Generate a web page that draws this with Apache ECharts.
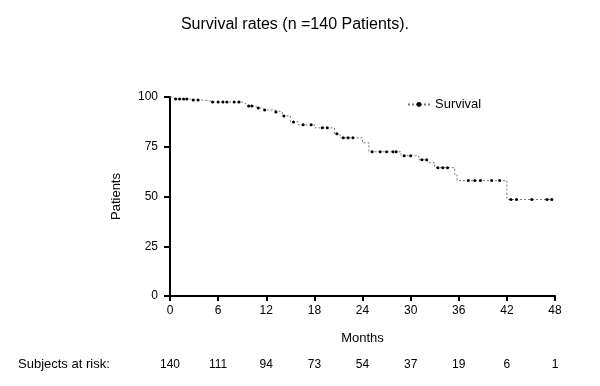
<!DOCTYPE html>
<html>
<head>
<meta charset="utf-8">
<script src="https://cdn.jsdelivr.net/npm/echarts@6/dist/echarts.min.js"></script>
<style>
  html, body { margin: 0; padding: 0; background: #fff; }
  #chart { width: 600px; height: 386px; }
</style>
</head>
<body>
<div id="chart"></div>
<script>
// KM steps: [month, survival after the drop]
const events = [
  [0, 100], [0.3, 99], [2.5, 98.5], [4, 98], [5, 97.5], [9, 96.5], [9.5, 95.5],
  [10.5, 94.5], [11.5, 93.5], [13, 92.5], [14, 90.5], [15, 87.5], [16, 86],
  [18, 84.5], [20.5, 81.5], [21.2, 79.5], [24, 77], [24.8, 72.5], [28.8, 70.5],
  [31, 68.5], [32.2, 67], [33, 64.5], [35.5, 61], [35.8, 58], [42, 48.5]
];
// censored marks
const censored = [
  [0.7, 99], [1.2, 99], [1.7, 99], [2.1, 99], [2.9, 98.5], [3.5, 98.5],
  [5.3, 97.5], [6, 97.5], [6.6, 97.5], [7.1, 97.5], [8, 97.5], [8.6, 97.5],
  [9.8, 95.5], [10.2, 95.5], [11, 94.5], [11.8, 93.5], [13.2, 92.5], [14.2, 90.5],
  [15.4, 87.5], [16.6, 86], [17.6, 86], [19, 84.5], [19.6, 84.5], [20.8, 81.5],
  [21.6, 79.5], [22.2, 79.5], [22.8, 79.5], [25.2, 72.5], [26.2, 72.5], [27, 72.5],
  [27.8, 72.5], [28.2, 72.5], [29.2, 70.5], [30, 70.5], [31.4, 68.5], [32, 68.5],
  [33.4, 64.5], [34, 64.5], [34.6, 64.5], [37.2, 58], [38, 58], [38.7, 58],
  [40.1, 58], [41.1, 58], [42.5, 48.5], [43.2, 48.5], [45.1, 48.5], [47, 48.5],
  [47.6, 48.5]
];
const yTicks = [0, 25, 50, 75, 100];
const monthTicks = [0, 6, 12, 18, 24, 30, 36, 42, 48];
const atRisk = [140, 111, 94, 73, 54, 37, 19, 6, 1];

const FONT = "Liberation Sans, Arial, sans-serif";

const curve = events.map(p => ({ value: p, symbol: "none" }))
  .concat(censored.map(p => ({ value: p })))
  .sort((a, b) => a.value[0] - b.value[0]);

const chart = echarts.init(document.getElementById("chart"), null, { renderer: "canvas" });

const axisText = { color: "#000", fontSize: 12, fontFamily: FONT };

chart.setOption({
  backgroundColor: "#fff",
  animation: false,
  title: {
    text: "Survival rates (n =140 Patients).",
    left: 290, top: 12, textAlign: "center",
    textStyle: { fontSize: 16, fontWeight: "normal", color: "#000", fontFamily: FONT }
  },
  legend: {
    data: ["Survival"],
    left: 402, top: 93,
    itemWidth: 22, itemHeight: 6, itemGap: 6,
    textStyle: { fontSize: 13, color: "#000", fontFamily: FONT }
  },
  grid: { left: 170, right: 45, top: 97, bottom: 90 },
  xAxis: [
    {
      type: "value", min: 0, max: 48, interval: 6,
      name: "Months", nameLocation: "middle", nameGap: 36,
      nameTextStyle: { fontSize: 13, color: "#000", fontFamily: FONT },
      axisLine: { onZero: false, lineStyle: { color: "#000", width: 2 } },
      axisTick: { show: true, length: 5, lineStyle: { color: "#000", width: 2 } },
      axisLabel: Object.assign({ margin: 9 }, axisText),
      splitLine: { show: false }
    },
    {
      type: "value", min: 0, max: 48, interval: 6, position: "bottom", offset: 63,
      axisLine: { show: false }, axisTick: { show: false }, splitLine: { show: false },
      axisLabel: Object.assign({
        margin: 0,
        formatter: v => atRisk[monthTicks.indexOf(v)]
      }, axisText)
    }
  ],
  yAxis: {
    type: "value", min: 0, max: 100, interval: 25,
    name: "Patients", nameLocation: "middle", nameGap: 47, nameRotate: 90,
    nameTextStyle: { fontSize: 13, color: "#000", fontFamily: FONT },
    axisLine: { show: true, lineStyle: { color: "#000", width: 2 } },
    axisTick: { show: true, length: 6, lineStyle: { color: "#000", width: 2 } },
    axisLabel: Object.assign({ margin: 12, formatter: v => yTicks.includes(v) ? v : "" }, axisText),
    splitLine: { show: false }
  },
  graphic: [{
    type: "text", left: 18, top: 358,
    style: { text: "Subjects at risk:", fontSize: 13, fill: "#000", fontFamily: FONT }
  }],
  series: [{
    name: "Survival",
    type: "line",
    step: "end",
    data: curve,
    symbol: "circle",
    symbolSize: 3,
    showAllSymbol: true,
    itemStyle: { color: "#000" },
    lineStyle: { color: "#777", width: 1, type: [2, 2] }
  }]
});
</script>
</body>
</html>
